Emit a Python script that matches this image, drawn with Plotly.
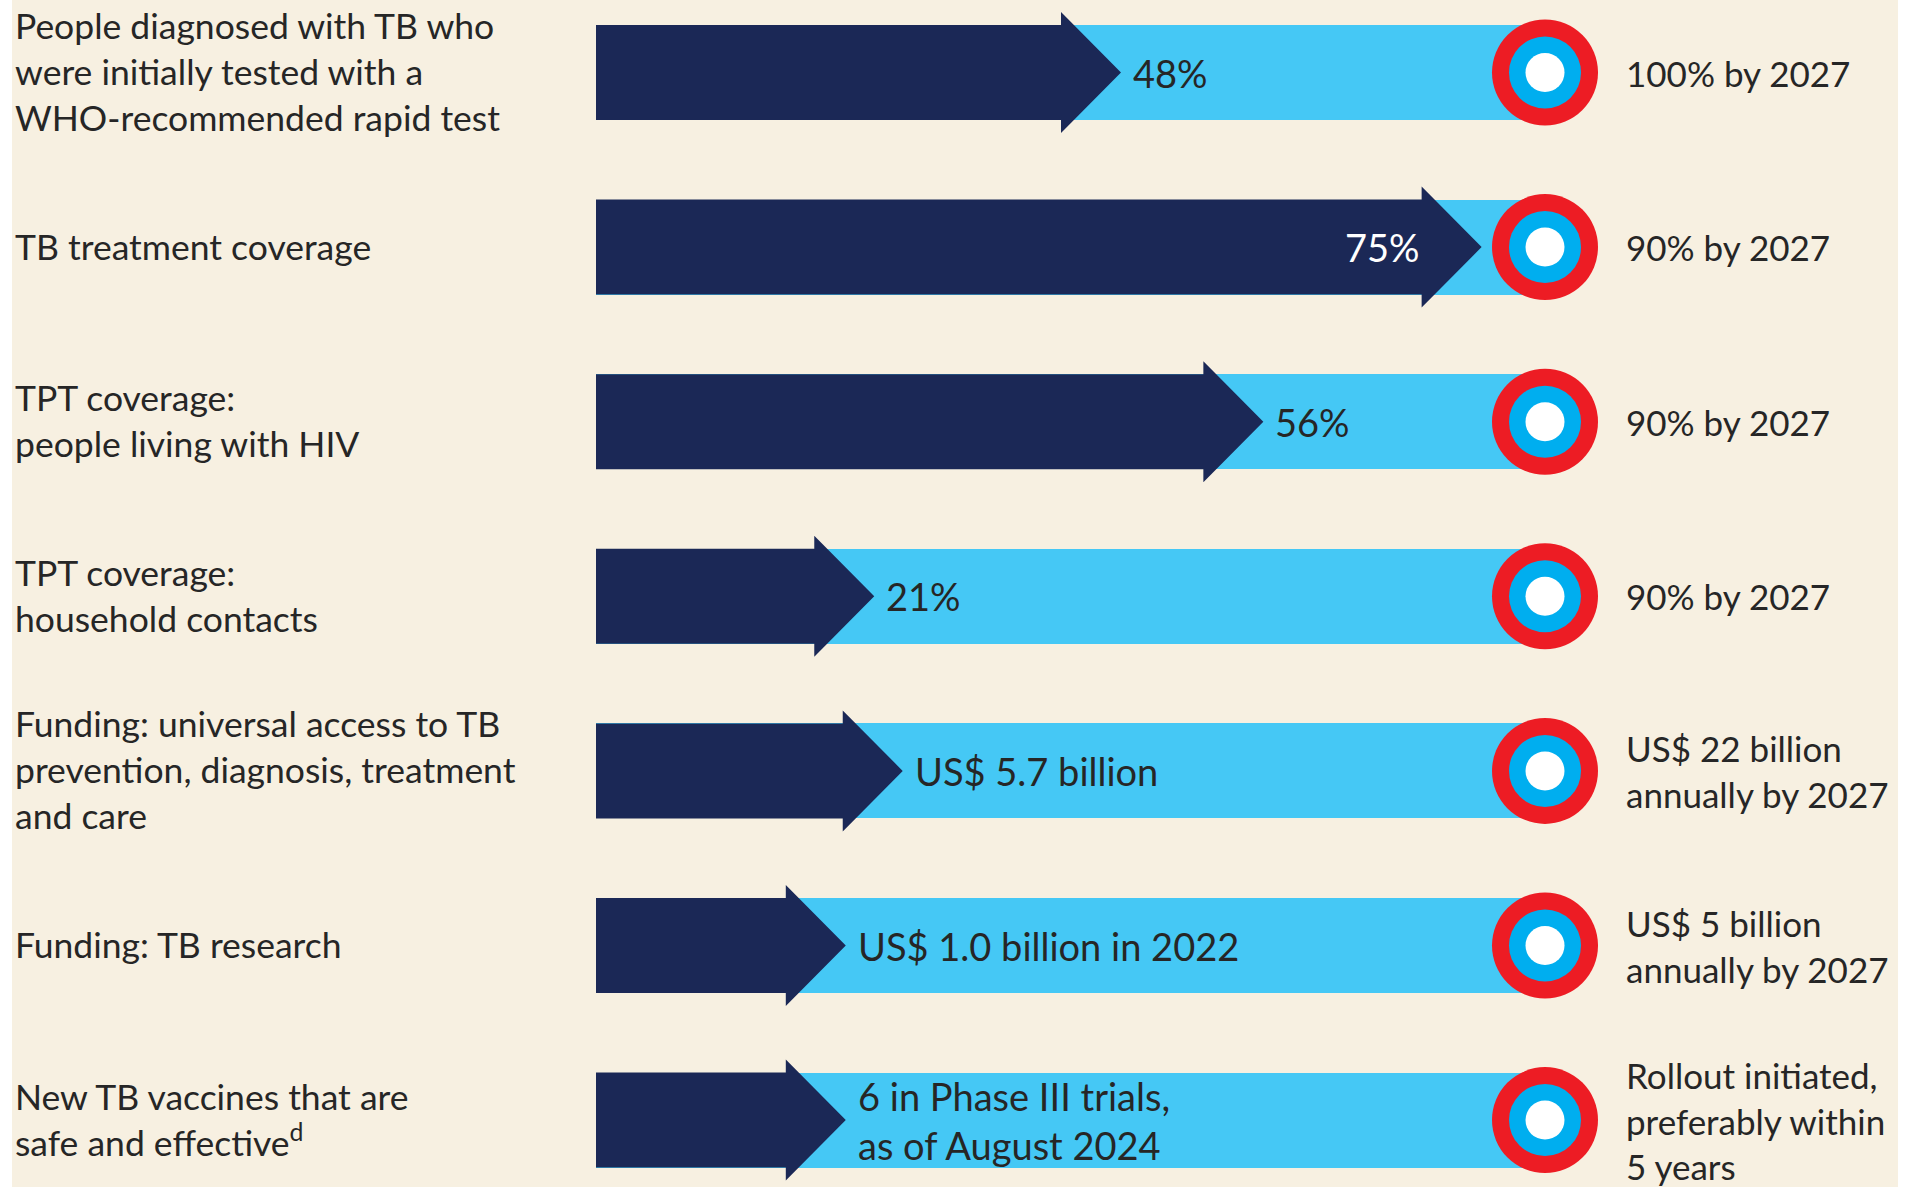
import plotly.graph_objects as go

# ---------------- data ----------------
indicators = [
    "People diagnosed with TB who<br>were initially tested with a<br>WHO-recommended rapid test",
    "TB treatment coverage",
    "TPT coverage:<br>people living with HIV",
    "TPT coverage:<br>household contacts",
    "Funding: universal access to TB<br>prevention, diagnosis, treatment<br>and care",
    "Funding: TB research",
    "New TB vaccines that are<br>safe and effective<sup>d</sup>",
]
current_labels = [
    "48%",
    "75%",
    "56%",
    "21%",
    "US$ 5.7 billion",
    "US$ 1.0 billion in 2022",
    "6 in Phase III trials,<br>as of August 2024",
]
target_labels = [
    "100% by 2027",
    "90% by 2027",
    "90% by 2027",
    "90% by 2027",
    "US$ 22 billion<br>annually by 2027",
    "US$ 5 billion<br>annually by 2027",
    "Rollout initiated,<br>preferably within<br>5 years",
]
# progress towards target as drawn (fraction of the distance to the target marker)
progress = [0.49, 0.87, 0.64, 0.23, 0.26, 0.20, 0.20]
target = [1.0] * 7

# ---------------- styling ----------------
W, H = 1906, 1187
NAVY = "#1B2856"
LIGHT = "#45C8F5"
RED = "#ED1C24"
RINGBLUE = "#00AEEF"
BG = "#F7F0E1"
TXT = "#262626"
FONT = "Lato"
FS_LAB = 35.5
FS_TGT = 35
FS_VAL = 38

rows = list(range(len(indicators)))
body_h = 0.272      # half height of bar body (y units)
head_h = 0.3465     # half height of arrow head
head_l = 0.0632     # arrow head length (x units)

fig = go.Figure()

# light-blue track to target
fig.add_trace(go.Bar(
    x=target, y=rows, orientation="h", base=0, width=2 * body_h,
    marker=dict(color=LIGHT, line=dict(width=0)), hoverinfo="skip",
    showlegend=False,
))

# navy arrows for current status
for r, p in zip(rows, progress):
    xs = [0, p, p, p + head_l, p, p, 0, 0]
    ys = [r - body_h, r - body_h, r - head_h, r, r + head_h, r + body_h, r + body_h, r - body_h]
    fig.add_trace(go.Scatter(
        x=xs, y=ys, mode="lines", fill="toself", fillcolor=NAVY,
        line=dict(width=0, color=NAVY), hoverinfo="skip", showlegend=False,
    ))

# target markers (concentric rings)
for size, col in [(106, RED), (72, RINGBLUE), (39, "white")]:
    fig.add_trace(go.Scatter(
        x=target, y=rows, mode="markers",
        marker=dict(size=size, color=col, line=dict(width=0)),
        hoverinfo="skip", showlegend=False,
    ))

annotations = []
for r, (lab, cur, tgt, p) in enumerate(zip(indicators, current_labels, target_labels, progress)):
    annotations.append(dict(
        x=13 / W, xref="paper", y=r, yref="y", text=lab, showarrow=False,
        xanchor="left", yanchor="middle", align="left", yshift=1,
        font=dict(family=FONT, size=FS_LAB, color=TXT),
    ))
    annotations.append(dict(
        x=1624 / W, xref="paper", y=r, yref="y", text=tgt, showarrow=False,
        xanchor="left", yanchor="middle", align="left",
        font=dict(family=FONT, size=FS_TGT, color=TXT),
    ))
    if p + head_l > 0.8:
        annotations.append(dict(
            x=p, xref="x", y=r, yref="y", text=cur, showarrow=False,
            xanchor="right", yanchor="middle", align="right",
            font=dict(family=FONT, size=FS_VAL, color="white"),
        ))
    else:
        annotations.append(dict(
            x=p + head_l, xref="x", y=r, yref="y", text=cur, showarrow=False,
            xanchor="left", yanchor="middle", align="left", xshift=10,
            font=dict(family=FONT, size=FS_VAL, color=TXT),
        ))

x0_px, x1_px = 596, 1545
unit = x1_px - x0_px
y0_px, dy_px = 72.5, 174.6

fig.update_layout(
    width=W, height=H,
    margin=dict(l=0, r=0, t=0, b=0),
    paper_bgcolor="white",
    plot_bgcolor="rgba(0,0,0,0)",
    xaxis=dict(range=[-x0_px / unit, (W - x0_px) / unit], visible=False, fixedrange=True),
    yaxis=dict(range=[(H - y0_px) / dy_px, -y0_px / dy_px], visible=False, fixedrange=True),
    bargap=0,
    annotations=annotations,
    shapes=[dict(type="rect", xref="paper", yref="paper", x0=12 / W, x1=1898 / W,
                 y0=0, y1=1, fillcolor=BG, line=dict(width=0), layer="below")],
    showlegend=False,
    hovermode=False,
)

fig.write_html(
    "out.html",
    config={"displayModeBar": False},
    post_script="document.body.style.margin='0px';document.body.style.overflow='hidden';",
)
